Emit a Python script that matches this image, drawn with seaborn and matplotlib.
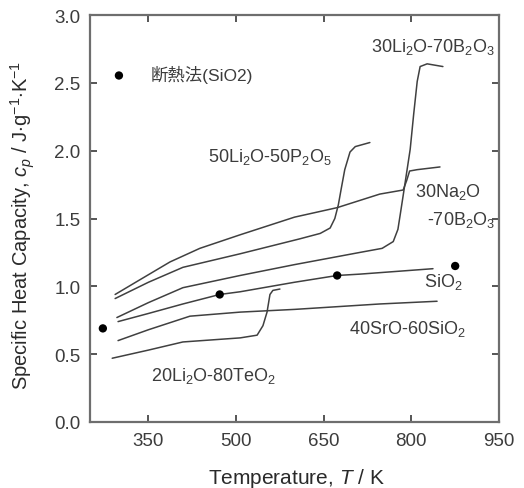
import matplotlib
matplotlib.use("Agg")
import matplotlib.pyplot as plt
import seaborn as sns
import pandas as pd

# ---- data ----
T_na = [293, 336, 387, 438, 507, 600, 673, 746, 786, 792, 797, 810, 849]
cp_na = [0.94, 1.05, 1.18, 1.28, 1.38, 1.51, 1.58, 1.68, 1.71, 1.78, 1.85, 1.86, 1.88]

T_lip = [293, 350, 409, 507, 609, 644, 661, 669, 675, 680, 686, 695, 704, 729]
cp_lip = [0.91, 1.03, 1.14, 1.24, 1.35, 1.39, 1.43, 1.50, 1.60, 1.72, 1.86, 1.99, 2.03, 2.06]

T_lib = [296, 350, 409, 507, 600, 712, 750, 769, 777, 781, 786, 792, 798, 804, 810, 815, 827, 854]
cp_lib = [0.77, 0.88, 0.99, 1.08, 1.16, 1.25, 1.28, 1.33, 1.42, 1.53, 1.67, 1.84, 2.01, 2.27, 2.51, 2.62, 2.64, 2.62]

T_si = [298, 350, 409, 472, 507, 600, 673, 712, 837]
cp_si = [0.74, 0.80, 0.87, 0.94, 0.96, 1.03, 1.08, 1.09, 1.13]

T_sr = [298, 350, 421, 507, 600, 746, 844]
cp_sr = [0.60, 0.68, 0.78, 0.81, 0.83, 0.87, 0.89]

T_te = [288, 350, 409, 507, 536, 546, 553, 558, 563, 575]
cp_te = [0.47, 0.53, 0.59, 0.62, 0.64, 0.71, 0.81, 0.94, 0.97, 0.98]

T_adi = [272, 472, 673, 875]
cp_adi = [0.69, 0.94, 1.08, 1.15]

x_ticks = [350, 500, 650, 800, 950]
y_ticks = [0.0, 0.5, 1.0, 1.5, 2.0, 2.5, 3.0]

labels = [
    ("30Li$_2$O-70B$_2$O$_3$", 943, 2.77, "right"),
    ("50Li$_2$O-50P$_2$O$_5$", 452, 1.96, "left"),
    ("30Na$_2$O", 806, 1.70, "left"),
    ("-70B$_2$O$_3$", 943, 1.50, "right"),
    ("SiO$_2$", 854, 1.04, "center"),
    ("40SrO-60SiO$_2$", 793, 0.69, "center"),
    ("20Li$_2$O-80TeO$_2$", 461, 0.35, "center"),
]

# ---- style ----
sns.set_style("ticks")
plt.rcParams["font.family"] = ["Liberation Sans", "Noto Sans CJK JP", "DejaVu Sans"]
plt.rcParams["mathtext.fontset"] = "custom"
plt.rcParams["mathtext.rm"] = "Liberation Sans"
plt.rcParams["mathtext.it"] = "Liberation Sans:italic"
plt.rcParams["mathtext.bf"] = "Liberation Sans:bold"

grey = "#6e6e6e"
line_c = "#404040"
text_c = "#3c3c3c"

fig = plt.figure(figsize=(5.24, 4.89), dpi=100)
ax = fig.add_axes([90 / 524, 1 - 423 / 489, 409 / 524, 407 / 489])

curves = [(T_na, cp_na), (T_lip, cp_lip), (T_lib, cp_lib),
          (T_si, cp_si), (T_sr, cp_sr), (T_te, cp_te)]
for T, cp in curves:
    sns.lineplot(x=T, y=cp, ax=ax, color=line_c, lw=1.1, sort=False,
                 estimator=None, legend=False)

sns.scatterplot(x=T_adi, y=cp_adi, ax=ax, color="black", s=36,
                edgecolor="none", label="断熱法(SiO2)", zorder=5)

for txt, x, y, ha in labels:
    ax.text(x, y, txt, ha=ha, va="center", fontsize=13, color=text_c)

ax.set_xlim(250, 950)
ax.set_ylim(0, 3.0)
ax.set_xticks(x_ticks)
ax.set_yticks(y_ticks)
ax.set_yticklabels([f"{v:.1f}" for v in y_ticks])
ax.tick_params(direction="in", length=5, width=1.4, color="#555555",
               labelsize=13.5, labelcolor=text_c, top=True, right=True, pad=7)
for s in ax.spines.values():
    s.set_color(grey)
    s.set_linewidth(1.6)

ax.set_xlabel("Temperature, $T$ / K", fontsize=15, color="#2a2a2a")
ax.set_ylabel("Specific Heat Capacity, $c_p$ / J$\\cdot$g$^{-1}$$\\cdot$K$^{-1}$",
              fontsize=14.5, color="#2a2a2a")
ax.xaxis.set_label_coords(0.506, -0.108)
ax.yaxis.set_label_coords(-0.13, 0.485)

leg = ax.legend(loc="center left", bbox_to_anchor=(0.058, 0.855), frameon=False,
                handlelength=0.6, handletextpad=1.5, borderpad=0, borderaxespad=0,
                fontsize=12.5)
for t in leg.get_texts():
    t.set_color(text_c)

fig.savefig("out.png", dpi=100)
